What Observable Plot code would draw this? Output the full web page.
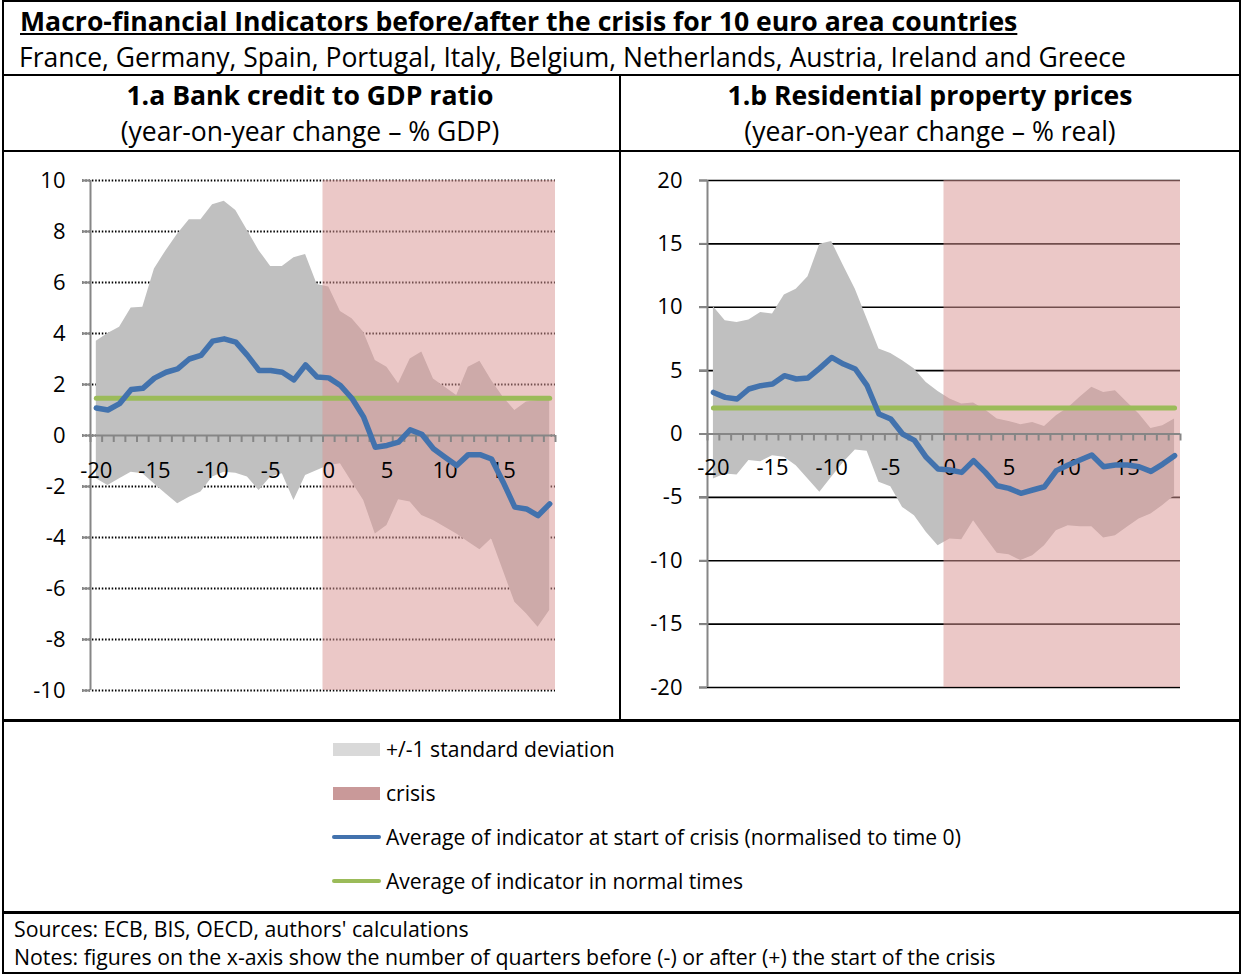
<!DOCTYPE html>
<html><head><meta charset="utf-8">
<script src="https://cdn.jsdelivr.net/npm/d3@7"></script>
<script src="https://cdn.jsdelivr.net/npm/@observablehq/plot@0.6"></script>
<style>
body{margin:0;background:#fff;font-family:"Open Sans",sans-serif;color:#000;}
#page{position:relative;width:1242px;height:974px;overflow:hidden;background:#fff;}
.t{position:absolute;white-space:nowrap;line-height:1;}
.h{position:absolute;background:#000;}
.c{text-align:center;}
.sw{position:absolute;}
</style></head>
<body><div id="page"></div>
<script>
// ---- data ----
const quarters = [-20,-19,-18,-17,-16,-15,-14,-13,-12,-11,-10,-9,-8,-7,-6,-5,-4,-3,-2,-1,
                  0,1,2,3,4,5,6,7,8,9,10,11,12,13,14,15,16,17,18,19];
const xTickLabels = [-20,-15,-10,-5,0,5,10,15];
const crisisQuarters = [0, 19];

// 1.a Bank credit to GDP ratio
const creditMean = [1.08,1.0,1.25,1.8,1.85,2.25,2.48,2.61,3.0,3.14,3.7,3.79,3.66,3.14,2.55,2.55,2.48,2.18,2.77,2.29,
                    2.26,1.96,1.45,0.72,-0.46,-0.39,-0.26,0.22,0.05,-0.52,-0.85,-1.18,-0.75,-0.75,-0.92,-1.83,-2.81,-2.88,-3.14,-2.68];
const creditUpper = [3.7,4.0,4.25,5.0,5.03,6.53,7.25,7.9,8.46,8.46,9.05,9.19,8.82,8.04,7.25,6.63,6.63,6.97,7.1,5.92,
                     5.82,4.86,4.58,4.05,2.94,2.68,2.03,3.0,3.27,2.22,1.89,1.57,2.68,2.91,2.16,1.5,0.98,1.31,1.37,1.37];
const creditLower = [-1.7,-1.96,-1.7,-1.44,-1.5,-1.9,-2.29,-2.68,-2.42,-2.22,-1.63,-1.44,-1.48,-1.63,-2.16,-1.63,-1.5,-2.55,-1.57,-1.37,
                     -1.18,-1.11,-1.83,-2.55,-3.86,-3.53,-2.52,-2.61,-3.14,-3.33,-3.6,-3.86,-4.18,-4.48,-4.05,-5.29,-6.54,-6.99,-7.52,-6.86];
const creditNormal = 1.46;
const creditTicks = [-10,-8,-6,-4,-2,0,2,4,6,8,10];

// 1.b Residential property prices
const propMean = [3.28,2.89,2.76,3.55,3.81,3.94,4.6,4.34,4.42,5.2,6.04,5.52,5.13,3.81,1.58,1.18,0,-0.5,-1.84,-2.76,
                  -2.84,-3.03,-2.1,-3.03,-4.08,-4.29,-4.68,-4.42,-4.16,-2.89,-2.45,-2.05,-1.66,-2.58,-2.45,-2.45,-2.58,-2.95,-2.37,-1.71];
const propUpper = [10.04,8.94,8.8,8.99,9.59,9.46,10.96,11.43,12.4,14.98,15.19,13.27,11.43,9.07,6.7,6.36,5.78,5.13,4.07,3.36,
                   2.76,2.37,2.44,1.89,1.18,0.99,0.73,0.91,0.6,1.44,2.05,2.89,3.68,3.28,3.41,2.49,1.58,0.44,0.65,1.18];
const propLower = [-3.55,-3.15,-3.23,-2.1,-2.18,-1.71,-1.84,-2.5,-3.55,-4.6,-3.42,-2.24,-1.26,-1.37,-3.81,-4.16,-5.79,-6.44,-7.76,-8.81,
                   -8.28,-8.34,-6.84,-8.15,-9.41,-9.52,-9.99,-9.6,-8.81,-7.63,-7.23,-7.31,-7.31,-8.2,-8.02,-7.36,-6.7,-6.31,-5.65,-4.87];
const propNormal = 2.05;
const propTicks = [-20,-15,-10,-5,0,5,10,15,20];

// ---- colours ----
const GRAY_AREA = "#c0c0c0";
const CRISIS = "#d99694";
const BLUE = "#4272ad";
const GREEN = "#9bbb59";
const AXIS = "#868686";

const page = document.getElementById("page");
function add(html){ page.insertAdjacentHTML("beforeend", html); }

function chart(mean, upper, lower, normal, ticks, opt) {
  const table = quarters.map((q, i) => ({q, mean: mean[i], hi: upper[i], lo: lower[i], normal}));
  const bounds = [quarters[0] - 0.5, ...quarters.map(q => q + 0.5)];
  const crisis = [{x1: crisisQuarters[0] - 0.5, x2: crisisQuarters[1] + 0.5}];
  return Plot.plot({
    width: opt.width, height: opt.height,
    marginLeft: opt.ml, marginRight: opt.mr, marginTop: opt.mt, marginBottom: opt.mb,
    style: {fontFamily: "'Open Sans', sans-serif", background: "transparent", overflow: "visible"},
    x: {domain: [quarters[0] - 0.5, quarters[quarters.length - 1] + 0.5], axis: null},
    y: {domain: [ticks[0], ticks[ticks.length - 1]], axis: null},
    marks: [
      Plot.ruleY(ticks, {stroke: "#000", strokeWidth: opt.gridWidth, strokeDasharray: opt.dash, insetLeft: -8}),
      Plot.areaY(table, {x: "q", y1: "lo", y2: "hi", fill: GRAY_AREA}),
      Plot.rect(crisis, {x1: "x1", x2: "x2", fill: CRISIS, fillOpacity: 0.52}),
      Plot.ruleX([quarters[0] - 0.5], {stroke: AXIS, strokeWidth: 2}),
      Plot.axisY({ticks, tickSize: 8, tickPadding: 17, stroke: AXIS, strokeWidth: 2, fill: "#000", fontSize: 22, tickFormat: d => String(d), label: null}),
      Plot.ruleY([0], {stroke: AXIS, strokeWidth: 2}),
      Plot.ruleX(bounds, {x: d => d, y1: 0, y2: 0, insetBottom: -7, stroke: AXIS, strokeWidth: 2}),
      Plot.text(xTickLabels, {x: d => d, y: 0, text: d => String(d), dy: opt.labelDy, fontSize: 22, fill: "#000"}),
      Plot.lineY(table, {x: "q", y: "normal", stroke: GREEN, strokeWidth: 5, strokeLinecap: "round"}),
      Plot.lineY(table, {x: "q", y: "mean", stroke: BLUE, strokeWidth: 5.5, strokeLinecap: "round", strokeLinejoin: "round"})
    ]
  });
}

// ---- frame & texts ----
add(`<div class="h" style="left:2px;top:0;width:1239px;height:2px"></div>`);
add(`<div class="h" style="left:2px;top:0;width:2px;height:974px"></div>`);
add(`<div class="h" style="left:1239px;top:0;width:2px;height:974px"></div>`);
add(`<div class="h" style="left:2px;top:972px;width:1239px;height:2px"></div>`);
add(`<div class="h" style="left:2px;top:74px;width:1239px;height:2px"></div>`);
add(`<div class="h" style="left:2px;top:150px;width:1239px;height:2px"></div>`);
add(`<div class="h" style="left:619px;top:74px;width:2px;height:646px"></div>`);
add(`<div class="h" style="left:2px;top:719px;width:1239px;height:3px"></div>`);
add(`<div class="h" style="left:2px;top:911px;width:1239px;height:3px"></div>`);

add(`<div class="t" style="left:20px;top:8px;font-size:26.6px;font-weight:700;text-decoration:underline;">Macro-financial Indicators before/after the crisis for 10 euro area countries</div>`);
add(`<div class="t" style="left:19px;top:44px;font-size:26.5px;">France, Germany, Spain, Portugal, Italy, Belgium, Netherlands, Austria, Ireland and Greece</div>`);
add(`<div class="t c" style="left:0;width:620px;top:82px;font-size:26.6px;font-weight:700;">1.a Bank credit to GDP ratio</div>`);
add(`<div class="t c" style="left:0;width:620px;top:118px;font-size:26.5px;">(year-on-year change – % GDP)</div>`);
add(`<div class="t c" style="left:620px;width:620px;top:82px;font-size:26.6px;font-weight:700;">1.b Residential property prices</div>`);
add(`<div class="t c" style="left:620px;width:620px;top:118px;font-size:26.5px;">(year-on-year change – % real)</div>`);

// ---- charts ----
const left = chart(creditMean, creditUpper, creditLower, creditNormal, creditTicks,
  {width: 620, height: 570, ml: 90, mr: 65, mt: 30, mb: 30, gridWidth: 2, dash: "1.5,1.8", labelDy: 35});
left.style.position = "absolute"; left.style.left = "0px"; left.style.top = "150px";
page.appendChild(left);

const right = chart(propMean, propUpper, propLower, propNormal, propTicks,
  {width: 620, height: 570, ml: 87, mr: 60, mt: 30, mb: 33, gridWidth: 1.6, dash: null, labelDy: 34});
right.style.position = "absolute"; right.style.left = "620px"; right.style.top = "150px";
page.appendChild(right);

// ---- legend ----
const legendItems = ["+/-1 standard deviation", "crisis", "Average of indicator at start of crisis (normalised to time 0)", "Average of indicator in normal times"];
add(`<div class="sw" style="left:333px;top:743px;width:47px;height:13px;background:#d9d9d9"></div>`);
add(`<div class="sw" style="left:333px;top:787px;width:47px;height:13px;background:#c99999"></div>`);
add(`<div class="sw" style="left:332px;top:835px;width:49px;height:4px;border-radius:2px;background:${BLUE}"></div>`);
add(`<div class="sw" style="left:332px;top:879px;width:49px;height:4px;border-radius:2px;background:${GREEN}"></div>`);
[749, 793, 837, 881].forEach((cy, i) => {
  add(`<div class="t" style="left:386px;top:${cy - 11}px;font-size:21.1px;">${legendItems[i]}</div>`);
});

// ---- footer ----
add(`<div class="t" style="left:14px;top:918px;font-size:21.3px;">Sources: ECB, BIS, OECD, authors' calculations</div>`);
add(`<div class="t" style="left:14px;top:946px;font-size:21.3px;">Notes: figures on the x-axis show the number of quarters before (-) or after (+) the start of the crisis</div>`);
</script>
</body></html>
